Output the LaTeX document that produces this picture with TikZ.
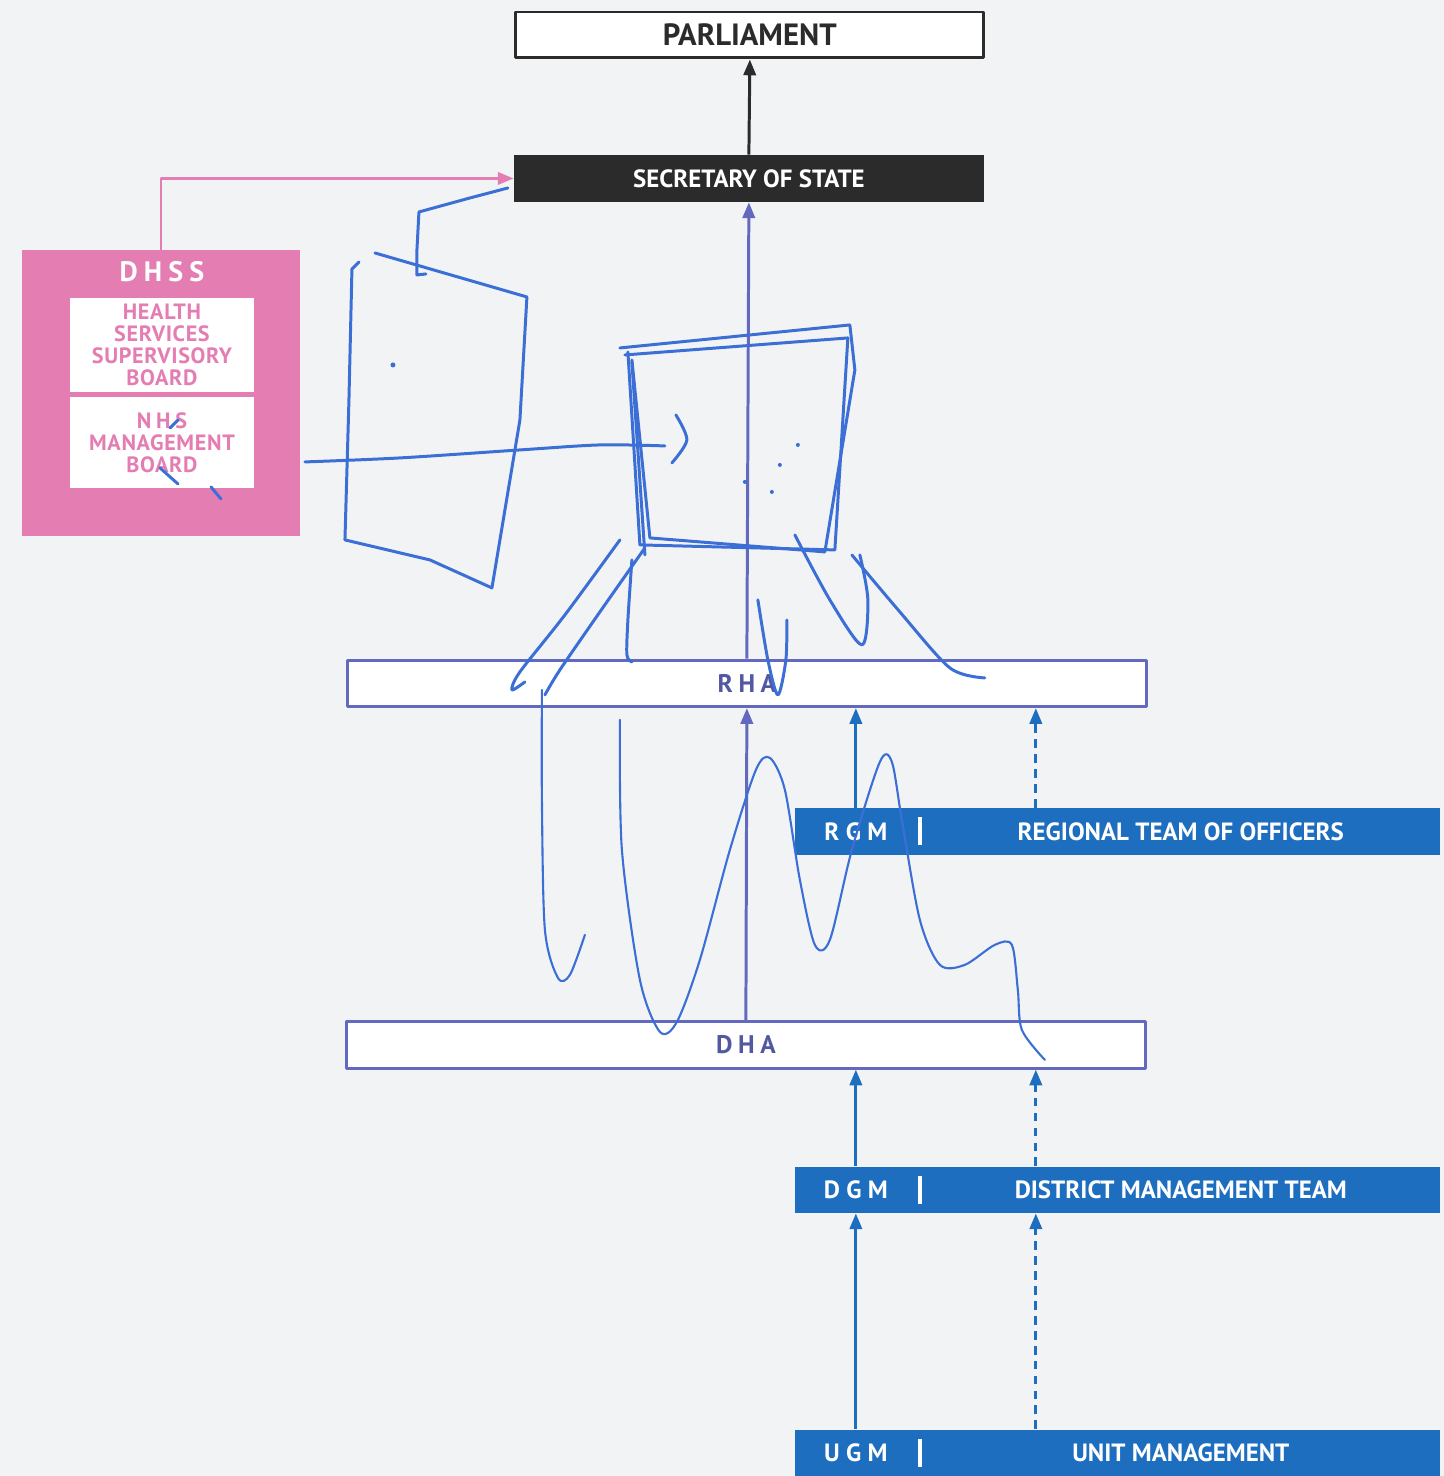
\documentclass[tikz,border=0pt]{standalone}
\usepackage{fontspec}
\setmainfont{PT Sans}
\usetikzlibrary{arrows.meta}
\definecolor{paper}{HTML}{F2F3F5}
\definecolor{ink}{HTML}{2B2B2B}
\definecolor{dhsspink}{HTML}{E47DB2}
\definecolor{hapurple}{HTML}{6269BE}
\definecolor{barblue}{HTML}{1E6EBF}
\definecolor{penblue}{HTML}{3C6FD6}
\newcommand{\spc}[1]{{\addfontfeatures{LetterSpace=22}#1}}
\begin{document}
\begin{tikzpicture}[x=0.02cm,y=-0.02cm,line join=round,
  every node/.style={font=\bfseries,inner sep=0pt,align=center},
  topbox/.style={draw=ink,fill=white,line width=1.7pt,text=ink,font=\fontsize{17.5}{20}\selectfont\bfseries},
  sosbox/.style={fill=ink,text=white,font=\fontsize{14.2}{16}\selectfont\bfseries},
  habox/.style={draw=hapurple,fill=white,line width=1.7pt,text=hapurple!85!black,minimum width=16cm,minimum height=0.93cm,font=\fontsize{14.5}{16}\selectfont\bfseries},
  bar/.style={fill=barblue,minimum width=12.9cm,minimum height=0.93cm},
  bartext/.style={text=white,font=\fontsize{14.2}{16}\selectfont\bfseries},
  sepbar/.style={fill=white,minimum width=2.6pt,minimum height=0.56cm},
  pinkin/.style={fill=white,text=dhsspink,minimum width=3.68cm,font=\fontsize{12.6}{12.6}\selectfont\bfseries\addfontfeatures{LetterSpace=3}},
  blk/.style={-{Triangle[length=9pt,width=7pt]},draw=ink,line width=1.7pt},
  haup/.style={-{Triangle[length=9pt,width=7pt]},draw=hapurple,line width=1.7pt},
  pinkup/.style={-{Triangle[length=9pt,width=7pt]},draw=dhsspink,line width=1.6pt},
  blup/.style={-{Triangle[length=9pt,width=7pt]},draw=barblue,line width=1.7pt},
  bldash/.style={blup,dash pattern=on 5pt off 3.5pt},
  pen/.style={draw=penblue,line width=1.7pt,line cap=round},
  thinpen/.style={pen,line width=1.2pt}]
\fill[paper] (0,0) rectangle (1444,1476);
\node[topbox,minimum width=9.36cm,minimum height=0.92cm] (parl) at (750,35) {PARLIAMENT};
\node[sosbox,minimum width=9.4cm,minimum height=0.94cm] (sos) at (749,178.5) {SECRETARY OF STATE};
\node[fill=dhsspink,minimum width=5.56cm,minimum height=5.72cm] (dhss) at (161,393) {};
\node[text=white,font=\fontsize{16}{18}\selectfont\bfseries] (dhsslbl) at (162,272) {\spc{DHSS}};
\node[pinkin,minimum height=1.88cm] (hssb) at (162,345) {HEALTH\\SERVICES\\SUPERVISORY\\BOARD};
\node[pinkin,minimum height=1.82cm] (nhsmb) at (162,442.5) {\spc{NHS}\\MANAGEMENT\\BOARD};
\node[habox] (rha) at (747,683.5) {\spc{RHA}};
\node[habox] (dha) at (746,1045) {\spc{DHA}};
\node[bar] (rgm) at (1117.5,831.5) {};
\node[bar] (dgm) at (1117.5,1190) {};
\node[bar] (ugm) at (1117.5,1453) {};
\coordinate (gmcol) at (856,0);
\coordinate (sepcol) at (920,0);
\coordinate (teamcol) at (1181,0);
\coordinate (dashcol) at (1036,0);
\foreach \b/\g/\t in {rgm/R G M/REGIONAL TEAM OF OFFICERS,dgm/D G M/DISTRICT MANAGEMENT TEAM,ugm/U G M/UNIT MANAGEMENT}{
  \node[bartext] at (\b -| gmcol) {\g};
  \node[sepbar] at (\b -| sepcol) {};
  \node[bartext] at (\b -| teamcol) {\t};
}
\draw[blk] (sos.north) -- (parl.south);
\draw[pinkup] (dhss.north) |- (sos.west);
\draw[haup] (rha.north) -- (sos.south);
\draw[haup] (dha.north) -- (rha.south);
\draw[blup] (rgm.north -| gmcol) -- (rha.south -| gmcol);
\draw[bldash] (rgm.north -| dashcol) -- (rha.south -| dashcol);
\draw[blup] (dgm.north -| gmcol) -- (dha.south -| gmcol);
\draw[bldash] (dgm.north -| dashcol) -- (dha.south -| dashcol);
\draw[blup] (ugm.north -| gmcol) -- (dgm.south -| gmcol);
\draw[bldash] (ugm.north -| dashcol) -- (dgm.south -| dashcol);
\draw[pen] (508,188) -- (470,198) -- (419,212) -- (417,250) -- (417,275) -- (426,274);
\draw[pen] (375,253) -- (527,297) -- (520,420) -- (492,588) -- (430,560) -- (345,540) -- (349,400) -- (352,269) -- (359,262);
\fill[penblue] (393,365) circle (2.5);
\draw[pen] plot[smooth] coordinates {(305,462) (400,458) (520,450) (600,445) (665,446)};
\draw[pen] plot[smooth] coordinates {(676,415) (687,440) (672,463)};
\draw[pen] (620,348) -- (850,325) -- (855,370) -- (825,552) -- (650,538) -- (632,360);
\draw[pen] (625,355) -- (848,338) -- (835,550) -- (640,545) -- (628,352);
\draw[pen] (632,362) -- (645,555);
\foreach \p in {(798,445),(780,465),(772,492),(745,482)} \fill[penblue] \p circle (2);
\draw[pen] plot[smooth] coordinates {(620,540) (565,615) (520,672) (512,690) (525,682)};
\draw[pen] plot[smooth] coordinates {(645,548) (600,612) (560,670) (545,695)};
\draw[pen] plot[smooth] coordinates {(632,560) (628,620) (627,655) (632,662)};
\draw[pen] plot[smooth] coordinates {(758,600) (768,660) (778,695) (786,660) (787,620)};
\draw[pen] plot[smooth] coordinates {(795,535) (830,600) (862,645) (868,600) (860,555)};
\draw[pen] plot[smooth] coordinates {(852,555) (900,612) (950,668) (985,678)};
\draw[thinpen] plot[smooth] coordinates {(542,690) (542,800) (545,930) (558,978) (570,975) (585,935)};
\draw[thinpen] plot[smooth] coordinates {(620,720) (622,850) (640,980) (660,1032) (677,1022) (700,960) (730,850) (756,770) (770,758) (785,790) (800,880) (815,945) (830,940) (852,850) (880,762) (892,762) (902,820) (920,920) (940,965) (965,965) (995,945) (1012,945) (1018,990) (1022,1030) (1045,1060)};
\draw[pen] (170,428) -- (178,420);
\draw[pen] (160,468) -- (178,484);
\draw[pen] (211,487) -- (221,499);
\end{tikzpicture}
\end{document}
